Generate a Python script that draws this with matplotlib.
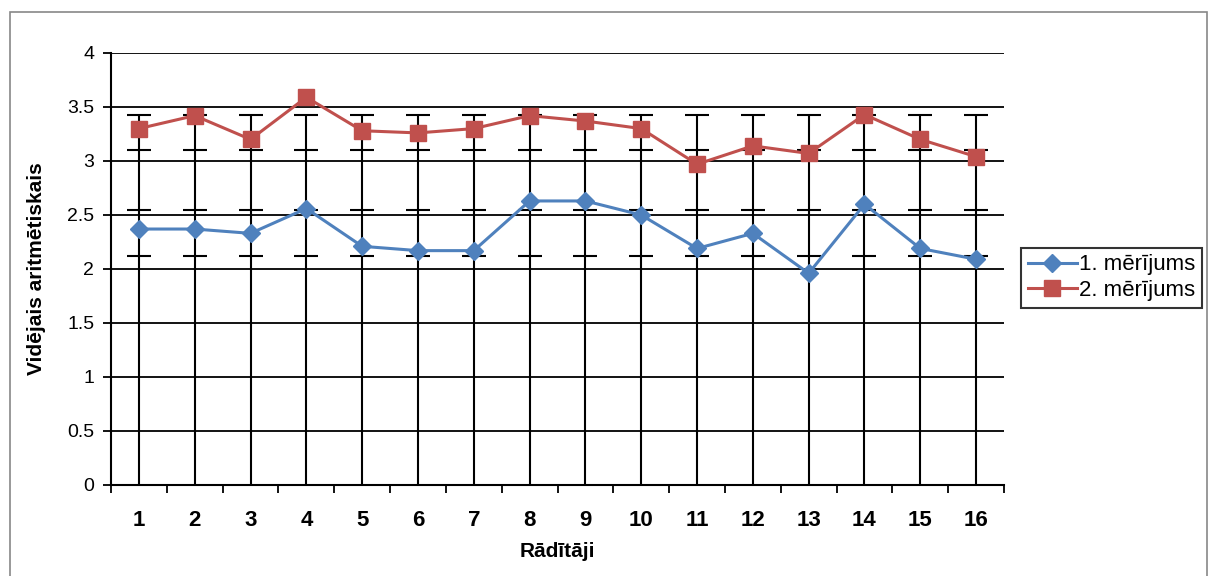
import matplotlib
matplotlib.use("Agg")
import matplotlib.pyplot as plt
from matplotlib.patches import Rectangle

plt.rcParams['font.family'] = ['Liberation Sans', 'DejaVu Sans']

categories = [str(i) for i in range(1, 17)]
series1 = [2.37, 2.37, 2.33, 2.56, 2.21, 2.17, 2.17, 2.63, 2.63, 2.50, 2.19, 2.33, 1.96, 2.60, 2.19, 2.09]
series2 = [3.30, 3.42, 3.20, 3.59, 3.28, 3.26, 3.30, 3.42, 3.37, 3.30, 2.97, 3.14, 3.07, 3.43, 3.20, 3.04]
series_names = ["1. mērījums", "2. mērījums"]
whisker_top = 3.43
cap_levels = [2.12, 2.55, 3.10, 3.43]
y_ticks = [0, 0.5, 1, 1.5, 2, 2.5, 3, 3.5, 4]
y_tick_labels = ["0", "0.5", "1", "1.5", "2", "2.5", "3", "3.5", "4"]

fig = plt.figure(figsize=(12.17, 5.76), dpi=100)
ax = fig.add_axes([0.0912, 0.158, 0.7338, 0.750])

x = list(range(1, len(categories) + 1))

# whisker lines and caps
ax.vlines(x, 0, whisker_top, color='black', lw=1.5, zorder=2)
for lvl in cap_levels:
    ax.plot(x, [lvl] * len(x), linestyle='none', marker='_', markersize=17,
            markeredgewidth=1.5, color='black', zorder=2)

ax.plot(x, series1, color='#4F81BD', lw=2.2, marker='D', markersize=9,
        label=series_names[0], zorder=4)
ax.plot(x, series2, color='#C0504D', lw=2.2, marker='s', markersize=12,
        label=series_names[1], zorder=4)

ax.set_xlim(0.5, 16.5)
ax.set_ylim(0, 4)
ax.set_yticks(y_ticks)
ax.set_yticklabels(y_tick_labels, fontsize=14)
ax.yaxis.grid(True, color='black', lw=1.3)
ax.set_axisbelow(True)

ax.set_xticks(x)
ax.set_xticklabels(categories, fontsize=16, fontweight='bold')
ax.set_xticks([i + 0.5 for i in range(0, 17)], minor=True)
ax.tick_params(axis='x', which='major', length=0, pad=18)
ax.tick_params(axis='x', which='minor', length=6, width=1.3, color='black')
ax.tick_params(axis='y', length=6, width=1.3, color='black', pad=6)

for s in ['top', 'right']:
    ax.spines[s].set_visible(False)
ax.spines['left'].set_linewidth(1.5)
ax.spines['bottom'].set_linewidth(1.5)

ax.set_ylabel("Vidējais aritmētiskais", fontsize=15, fontweight='bold', labelpad=15)
ax.set_xlabel("Rādītāji", fontsize=15, fontweight='bold', labelpad=8)

leg = ax.legend(loc='center left', bbox_to_anchor=(1.007, 0.48), fontsize=16,
                frameon=True, fancybox=False, edgecolor='black', handlelength=2.2,
                handletextpad=0.1, borderpad=0.3, labelspacing=0.2)
leg.get_frame().set_linewidth(1.5)

fig.patches.append(Rectangle((10 / 1217, -0.01), 1197 / 1217, 1 - 12 / 576 + 0.01,
                             transform=fig.transFigure, fill=False,
                             edgecolor='#888888', lw=1.2))

fig.savefig("out.png", dpi=100)
